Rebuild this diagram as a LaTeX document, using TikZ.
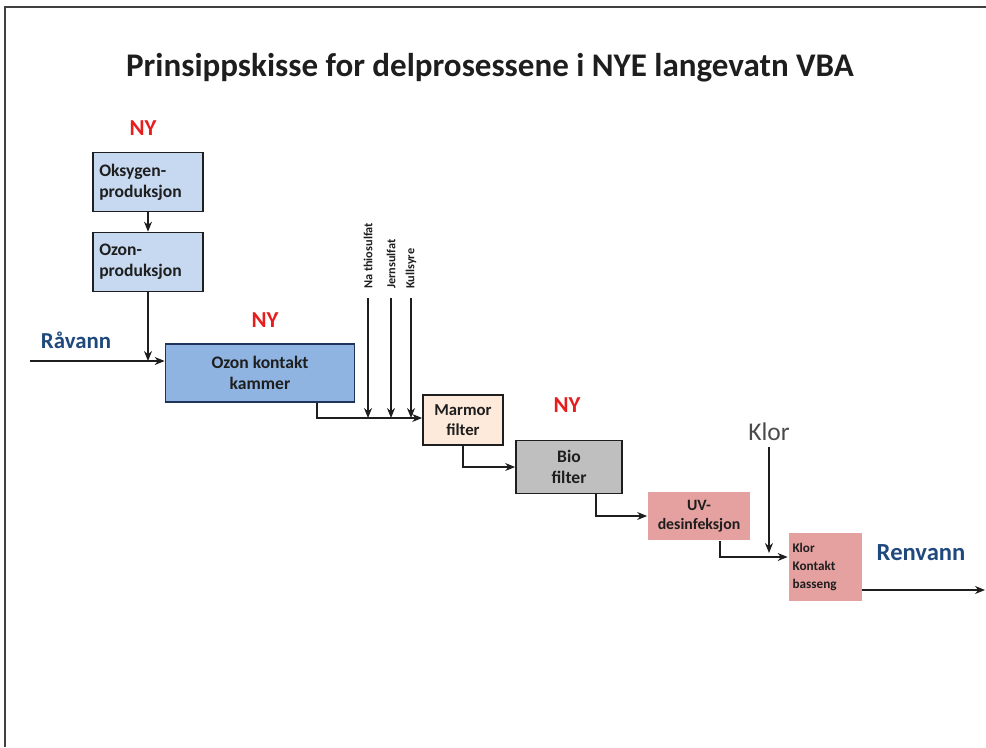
\documentclass[tikz,border=0pt]{standalone}
\usepackage{fontspec}
\setmainfont{Carlito}
\usetikzlibrary{arrows.meta, positioning}
\definecolor{oxyblue}{RGB}{198, 217, 241}
\definecolor{ozonblue}{RGB}{143, 180, 226}
\definecolor{navyline}{RGB}{31, 50, 90}
\definecolor{marmorbg}{RGB}{253, 234, 218}
\definecolor{biogray}{RGB}{191, 191, 191}
\definecolor{uvpink}{RGB}{229, 160, 160}
\definecolor{nyred}{RGB}{230, 30, 30}
\definecolor{waterblue}{RGB}{31, 73, 125}
\definecolor{textdark}{RGB}{30, 30, 30}

\begin{document}
\begin{tikzpicture}[
    x=0.02cm, y=-0.02cm,
    stage/.style={rectangle, draw=textdark, line width=1pt, inner sep=2pt, align=center, font=\fontsize{10}{12}\selectfont\bfseries, text=textdark},
    pinkstage/.style={stage, draw=none, fill=uvpink},
    chem/.style={rotate=90, anchor=west, inner sep=5pt, font=\fontsize{7}{8}\selectfont\bfseries, text=textdark},
    newmark/.style={font=\fontsize{13}{15}\selectfont\bfseries, text=nyred},
    water/.style={font=\fontsize{13}{15}\selectfont\bfseries, text=waterblue},
    arrow/.style={-{Stealth[length=2mm, width=1.6mm]}, line width=0.7pt, color=textdark}
]
\useasboundingbox (0,0) rectangle (986,747);

% Frame
\draw[line width=1.4pt, color=textdark!85] (5,747) -- (5,7) -- (986,7);

% Title
\node[font=\fontsize{18.8}{22}\selectfont\bfseries, text=textdark] (title) at (490,68) {Prinsippskisse for delprosessene i NYE langevatn VBA};

% NY marks
\node[newmark] (ny1) at (143,128) {NY};
\node[newmark] (ny2) at (265,320) {NY};
\node[newmark] (ny3) at (567,405) {NY};

% Oxygen and ozone production
\node[stage, fill=oxyblue, minimum width=2.2cm, minimum height=1.18cm, text width=1.95cm, align=left] (oksygen) at (148,182) {Oksygen-\\produksjon};
\node[stage, fill=oxyblue, minimum width=2.2cm, minimum height=1.18cm, text width=1.95cm, align=left] (ozonprod) at (148,262) {Ozon-\\produksjon};

% Ozone contact chamber
\node[stage, fill=ozonblue, draw=navyline, minimum width=3.78cm, minimum height=1.16cm] (kammer) at (260,373) {Ozon kontakt\\kammer};

% Filters
\node[stage, fill=marmorbg, minimum width=1.6cm, minimum height=1.0cm, font=\fontsize{9.5}{11.5}\selectfont\bfseries] (marmor) at (463,420) {Marmor\\filter};
\node[stage, fill=biogray, minimum width=2.12cm, minimum height=1.06cm] (bio) at (569,467) {Bio\\filter};

% Disinfection
\node[pinkstage, minimum width=2.04cm, minimum height=0.96cm, font=\fontsize{9}{11}\selectfont\bfseries] (uv) at (699,516) {UV-\\desinfeksjon};
\node[pinkstage, minimum width=1.46cm, minimum height=1.36cm, text width=1.3cm, align=left, font=\fontsize{7.5}{10}\selectfont\bfseries] (klorkontakt) at (825,567) {Klor\\Kontakt\\basseng};

% Chemicals
\node[chem] (nathio) at (368,298) {Na thiosulfat};
\node[chem] (jern) at (391,298) {Jernsulfat};
\node[chem] (kull) at (411,298) {Kullsyre};

% Water labels
\node[water] (raavann) at (76,340) {Råvann};
\node[water, font=\fontsize{14}{16}\selectfont\bfseries] (renvann) at (921,553) {Renvann};
\node[font=\fontsize{14.5}{16}\selectfont, text=textdark!80] (klor) at (769,432) {Klor};

% Free ends
\coordinate (inn) at (30,361);
\coordinate (blanding) at (317,418);
\coordinate (klorinn) at (720,557);
\coordinate (ut) at (985,590);

% Arrows
\draw[arrow] (oksygen) -- (ozonprod);
\draw[arrow] (inn) -- (inn -| kammer.west);
\draw[arrow] (ozonprod.south) -- (ozonprod.south |- inn);
\draw[arrow] (kammer.south -| blanding) -- (blanding) -- (blanding -| marmor.west);
\draw[arrow] (nathio.west) -- (nathio.west |- blanding);
\draw[arrow] (jern.west) -- (jern.west |- blanding);
\draw[arrow] (kull.west) -- (kull.west |- blanding);
\draw[arrow] (marmor.south) |- (bio.west);
\draw[arrow] ([xshift=0.54cm]bio.south) |- (uv.west);
\draw[arrow] (uv.south -| klorinn) -- (klorinn) -- (klorinn -| klorkontakt.west);
\draw[arrow] (klor.south) -- ([yshift=0.08cm]klor.south |- klorinn);
\draw[arrow] (klorkontakt.east |- ut) -- (ut);

\end{tikzpicture}
\end{document}
